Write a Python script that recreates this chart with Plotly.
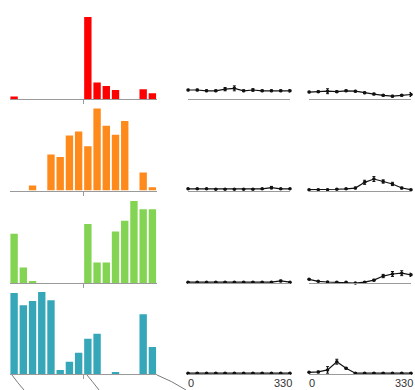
import plotly.graph_objects as go

# ---- data -------------------------------------------------------------
bins = list(range(16))  # direction bins of the histograms

hist_red = [0.03, 0, 0, 0, 0, 0, 0, 0, 1.00, 0.20, 0.16, 0.11, 0, 0, 0.12, 0.07]
hist_orange = [0, 0, 0.06, 0, 0.44, 0.41, 0.67, 0.72, 0.54, 1.00, 0.79, 0.68, 0.85, 0, 0.22, 0.04]
hist_green = [0.60, 0.19, 0.02, 0, 0, 0, 0, 0, 0.72, 0.25, 0.25, 0.63, 0.76, 1.00, 0.90, 0.90]
hist_teal = [0.99, 0.84, 0.89, 1.00, 0.90, 0.05, 0.15, 0.26, 0.43, 0.49, 0, 0.015, 0, 0, 0.73, 0.33]

angles = [0, 30, 60, 90, 120, 150, 180, 210, 240, 270, 300, 330]

tune_a = [
    [0.11, 0.11, 0.10, 0.10, 0.12, 0.13, 0.10, 0.11, 0.10, 0.10, 0.10, 0.10],
    [0.02, 0.02, 0.02, 0.015, 0.015, 0.015, 0.015, 0.015, 0.02, 0.035, 0.02, 0.02],
    [0.01, 0.01, 0.01, 0.01, 0.01, 0.01, 0.01, 0.01, 0.01, 0.01, 0.025, 0.01],
    [0.01, 0.01, 0.01, 0.01, 0.01, 0.01, 0.01, 0.01, 0.01, 0.01, 0.01, 0.01],
]
err_a = [
    [0.01, 0.01, 0.01, 0.01, 0.02, 0.03, 0.01, 0.015, 0.01, 0.01, 0.01, 0.015],
    [0.005, 0.005, 0.005, 0.005, 0.005, 0.005, 0.005, 0.005, 0.005, 0.015, 0.005, 0.005],
    [0.005, 0.005, 0.005, 0.005, 0.005, 0.005, 0.005, 0.005, 0.005, 0.005, 0.01, 0.005],
    [0.005, 0.005, 0.005, 0.005, 0.005, 0.005, 0.005, 0.005, 0.005, 0.005, 0.005, 0.005],
]
tune_b = [
    [0.085, 0.09, 0.095, 0.09, 0.10, 0.095, 0.075, 0.06, 0.045, 0.035, 0.045, 0.055],
    [0.01, 0.01, 0.01, 0.015, 0.02, 0.03, 0.10, 0.14, 0.11, 0.08, 0.03, 0.01],
    [0.045, 0.02, 0.012, 0.01, 0.01, 0.0, 0.01, 0.035, 0.085, 0.11, 0.12, 0.10],
    [0.02, 0.025, 0.05, 0.15, 0.07, 0.01, 0.01, 0.01, 0.01, 0.01, 0.01, 0.01],
]
err_b = [
    [0.01, 0.01, 0.03, 0.01, 0.01, 0.01, 0.01, 0.01, 0.01, 0.01, 0.01, 0.025],
    [0.005, 0.005, 0.005, 0.005, 0.005, 0.01, 0.025, 0.03, 0.02, 0.02, 0.01, 0.005],
    [0.01, 0.005, 0.005, 0.005, 0.005, 0.005, 0.005, 0.01, 0.02, 0.03, 0.03, 0.02],
    [0.005, 0.01, 0.04, 0.03, 0.01, 0.005, 0.005, 0.005, 0.005, 0.005, 0.005, 0.005],
]

hists = [hist_red, hist_orange, hist_green, hist_teal]
colors = ["#ff0000", "#ff8a1c", "#82d452", "#35a7b8"]

# ---- layout helpers ----------------------------------------------------
W, H = 415, 390
baselines = [99, 190.5, 283, 374]   # pixel row of each strip's baseline
strip_h = 86                        # pixel height of each strip
col_px = [(9.5, 157), (188, 290), (309, 411)]

fig = go.Figure()
layout = {}

def px_x(a, b):
    return [a / W, b / W]

def px_y(base):
    return [1 - base / H, 1 - (base - strip_h) / H]

for r in range(4):
    for c in range(3):
        k = r * 3 + c + 1
        xa = "xaxis" if k == 1 else f"xaxis{k}"
        ya = "yaxis" if k == 1 else f"yaxis{k}"
        xr = "x" if k == 1 else f"x{k}"
        yr = "y" if k == 1 else f"y{k}"
        layout[ya] = dict(domain=px_y(baselines[r]), range=[0, 1.05], visible=False,
                          anchor=xr, fixedrange=True)
        if c == 0:
            fig.add_trace(go.Bar(x=bins, y=hists[r], marker=dict(color=colors[r], line=dict(width=0)),
                                 xaxis=xr, yaxis=yr, showlegend=False))
            layout[xa] = dict(domain=px_x(*col_px[c]), range=[-0.5, 15.5], anchor=yr,
                              showline=True, linecolor="#9a9a9a", linewidth=1,
                              tickvals=[7.5], ticks="outside", ticklen=4, tickcolor="#9a9a9a",
                              showticklabels=False, showgrid=False, zeroline=False)
        else:
            vals = tune_a[r] if c == 1 else tune_b[r]
            errs = err_a[r] if c == 1 else err_b[r]
            fig.add_trace(go.Scatter(x=angles, y=vals, mode="lines+markers",
                                     line=dict(color="#111111", width=1.2),
                                     marker=dict(color="#111111", size=3.5),
                                     error_y=dict(type="data", array=errs, color="#111111",
                                                  thickness=1, width=1.5),
                                     cliponaxis=False, xaxis=xr, yaxis=yr, showlegend=False))
            layout[xa] = dict(domain=px_x(*col_px[c]), range=[0, 330], anchor=yr,
                              showline=True, linecolor="#9a9a9a", linewidth=1,
                              showticklabels=False, ticks="", showgrid=False, zeroline=False)

fig.update_layout(**layout)

# angle labels under the bottom tuning curves
annotations = []
for c, k in ((1, 11), (2, 12)):
    annotations.append(dict(x=0, y=0, xref=f"x{k}", yref=f"y{k}", text="0", showarrow=False,
                            xanchor="left", yanchor="top", xshift=-2, yshift=-1,
                            font=dict(size=11, color="#333333")))
    annotations.append(dict(x=330, y=0, xref=f"x{k}", yref=f"y{k}", text="330", showarrow=False,
                            xanchor="right", yanchor="top", xshift=4, yshift=-1,
                            font=dict(size=11, color="#333333")))

# connector strokes leaving the bottom histogram
def p(xp, yp):
    return f"{xp / W:.4f},{1 - yp / H:.4f}"

shapes = []
for pts in (
    [(12, 375), (17, 382), (24, 390)],
    [(87, 375), (92, 381), (99, 390)],
    [(157, 375), (172, 381), (186, 390)],
):
    path = f"M {p(*pts[0])} Q {p(*pts[1])} {p(*pts[2])}"
    shapes.append(dict(type="path", path=path, xref="paper", yref="paper",
                       line=dict(color="#7a7a7a", width=1)))

fig.update_layout(
    width=W, height=H,
    margin=dict(l=0, r=0, t=0, b=0),
    paper_bgcolor="white", plot_bgcolor="white",
    bargap=0.2,
    font=dict(family="Liberation Sans, Arial, sans-serif"),
    annotations=annotations, shapes=shapes,
)

fig.write_html("out.html")
